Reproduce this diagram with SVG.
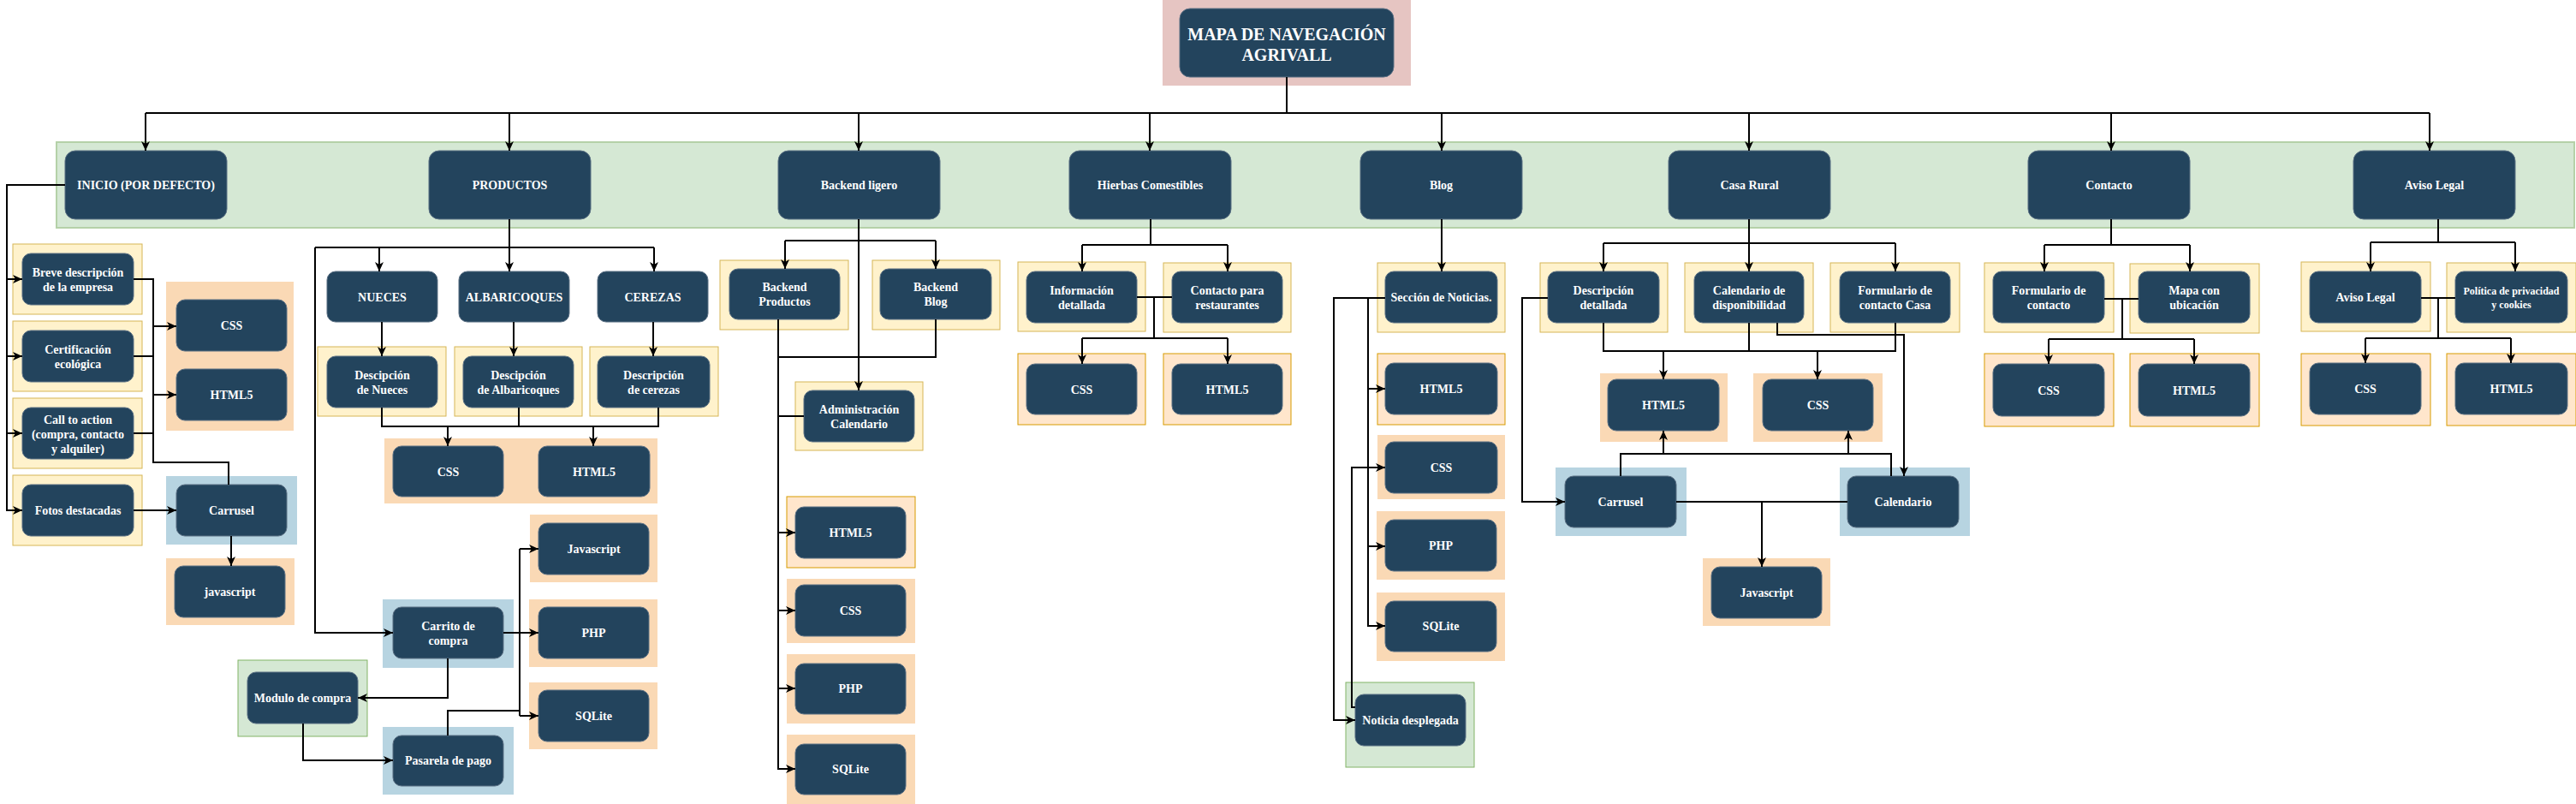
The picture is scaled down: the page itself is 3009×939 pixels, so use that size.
<svg xmlns="http://www.w3.org/2000/svg" xmlns:xlink="http://www.w3.org/1999/xlink" width="3009" height="939" viewBox="0 0 3009 939">
<defs>
<style>
.n{fill:#23445d;stroke:#5b7084;stroke-width:1}
.y{fill:#fff2cc;stroke:#d6b656;stroke-width:1}
.o{fill:#fad9b5}
.os{fill:#ffe6cc;stroke:#d79b00;stroke-width:1}
.b{fill:#b7d4e1}
.g{fill:#d5e8d4;stroke:#82b366;stroke-width:1}
.p{fill:#e6c5c2}
text{font-family:"Liberation Serif","Times New Roman",serif;font-weight:bold;font-size:14px;fill:#ffffff;text-anchor:middle}
.tt{font-size:20px}
.sm{font-size:12px}
.c path{fill:none;stroke:#000;stroke-width:2}
.c use{fill:#000;stroke:none}
</style>
<path id="ad" d="M0,0 L-5,-11 L0,-8 L5,-11 Z"/>
<path id="au" d="M0,0 L-5,11 L0,8 L5,11 Z"/>
<path id="ar" d="M0,0 L-11,-5 L-8,0 L-11,5 Z"/>
<path id="al" d="M0,0 L11,-5 L8,0 L11,5 Z"/>
</defs>
<rect width="3009" height="939" fill="#ffffff"/>

<rect id="band" x="66" y="166" width="2941" height="100" style="fill:#d5e8d4;stroke:#b5d1a8;stroke-width:2"/>

<g id="title">
<rect class="p" x="1358" y="0" width="290" height="100"/>
<rect class="n" x="1378" y="10" width="250" height="80" rx="12"/>
<text class="tt" x="1503" y="47">MAPA DE NAVEGACIÓN</text>
<text class="tt" x="1503" y="71">AGRIVALL</text>
</g>

<g id="inicio"><rect class="n" x="76" y="176" width="189" height="80" rx="12"/><text x="170.5" y="221">INICIO (POR DEFECTO)</text></g>
<g id="productos"><rect class="n" x="501" y="176" width="189" height="80" rx="12"/><text x="595.5" y="221">PRODUCTOS</text></g>
<g id="backend"><rect class="n" x="909" y="176" width="189" height="80" rx="12"/><text x="1003.5" y="221">Backend ligero</text></g>
<g id="hierbas"><rect class="n" x="1249" y="176" width="189" height="80" rx="12"/><text x="1343.5" y="221">Hierbas Comestibles</text></g>
<g id="blog"><rect class="n" x="1589" y="176" width="189" height="80" rx="12"/><text x="1683.5" y="221">Blog</text></g>
<g id="casarural"><rect class="n" x="1949" y="176" width="189" height="80" rx="12"/><text x="2043.5" y="221">Casa Rural</text></g>
<g id="contacto"><rect class="n" x="2369" y="176" width="189" height="80" rx="12"/><text x="2463.5" y="221">Contacto</text></g>
<g id="avisolegal"><rect class="n" x="2749" y="176" width="189" height="80" rx="12"/><text x="2843.5" y="221">Aviso Legal</text></g>

<g id="breve"><rect class="y" x="15" y="285" width="151" height="82"/><rect class="n" x="26" y="296" width="130" height="60" rx="10"/><text x="91" y="323">Breve descripción</text><text x="91" y="340">de la empresa</text></g>
<g id="certificacion"><rect class="y" x="15" y="375" width="151" height="82"/><rect class="n" x="26" y="386" width="130" height="60" rx="10"/><text x="91" y="413">Certificación</text><text x="91" y="430">ecológica</text></g>
<g id="callaction"><rect class="y" x="15" y="465" width="151" height="82"/><rect class="n" x="26" y="476" width="130" height="60" rx="10"/><text x="91" y="495">Call to action</text><text x="91" y="512">(compra, contacto</text><text x="91" y="529">y alquiler)</text></g>
<g id="fotos"><rect class="y" x="15" y="555" width="151" height="82"/><rect class="n" x="26" y="566" width="130" height="60" rx="10"/><text x="91" y="601">Fotos destacadas</text></g>
<g id="inicio-tech"><rect class="o" x="194" y="329" width="149" height="174"/>
<rect class="n" x="206" y="350" width="129" height="60" rx="10"/><text x="270.5" y="385">CSS</text>
<rect class="n" x="206" y="431" width="129" height="60" rx="10"/><text x="270.5" y="466">HTML5</text></g>
<g id="carrusel1"><rect class="b" x="194" y="556" width="153" height="80"/><rect class="n" x="206" y="566" width="129" height="60" rx="10"/><text x="270.5" y="601">Carrusel</text></g>
<g id="js1"><rect class="o" x="194" y="652" width="150" height="78"/><rect class="n" x="204" y="661" width="129" height="60" rx="10"/><text x="268.5" y="696">javascript</text></g>

<g id="nueces"><rect class="n" x="382" y="317" width="129" height="59" rx="10"/><text x="446.5" y="352">NUECES</text></g>
<g id="albaricoques"><rect class="n" x="536" y="317" width="129" height="59" rx="10"/><text x="600.5" y="352">ALBARICOQUES</text></g>
<g id="cerezas"><rect class="n" x="698" y="317" width="129" height="59" rx="10"/><text x="762.5" y="352">CEREZAS</text></g>
<g id="desc-nueces"><rect class="y" x="371" y="405" width="150" height="81"/><rect class="n" x="382" y="416" width="129" height="60" rx="10"/><text x="446.5" y="443">Descipción</text><text x="446.5" y="460">de Nueces</text></g>
<g id="desc-alb"><rect class="y" x="531" y="405" width="149" height="81"/><rect class="n" x="541" y="416" width="129" height="60" rx="10"/><text x="605.5" y="443">Descipción</text><text x="605.5" y="460">de Albaricoques</text></g>
<g id="desc-cer"><rect class="y" x="689" y="405" width="150" height="81"/><rect class="n" x="698" y="416" width="131" height="60" rx="10"/><text x="763.5" y="443">Descripción</text><text x="763.5" y="460">de cerezas</text></g>
<g id="prod-tech"><rect class="o" x="449" y="512" width="319" height="76"/>
<rect class="n" x="459" y="521" width="129" height="59" rx="10"/><text x="523.5" y="556">CSS</text>
<rect class="n" x="629" y="521" width="130" height="59" rx="10"/><text x="694" y="556">HTML5</text></g>
<g id="js2"><rect class="o" x="619" y="601" width="149" height="79"/><rect class="n" x="629" y="611" width="129" height="60" rx="10"/><text x="693.5" y="646">Javascript</text></g>
<g id="php1"><rect class="o" x="618" y="700" width="150" height="79"/><rect class="n" x="629" y="709" width="129" height="60" rx="10"/><text x="693.5" y="744">PHP</text></g>
<g id="sqlite1"><rect class="o" x="618" y="797" width="150" height="78"/><rect class="n" x="629" y="806" width="129" height="60" rx="10"/><text x="693.5" y="841">SQLite</text></g>
<g id="carrito"><rect class="b" x="447" y="700" width="153" height="80"/><rect class="n" x="459" y="709" width="129" height="60" rx="10"/><text x="523.5" y="736">Carrito de</text><text x="523.5" y="753">compra</text></g>
<g id="modulo"><rect class="g" x="278" y="771" width="151" height="89"/><rect class="n" x="289" y="785" width="129" height="60" rx="10"/><text x="353.5" y="820">Modulo de compra</text></g>
<g id="pasarela"><rect class="b" x="447" y="849" width="153" height="79"/><rect class="n" x="459" y="859" width="129" height="59" rx="10"/><text x="523.5" y="893">Pasarela de pago</text></g>

<g id="be-productos"><rect class="y" x="841" y="304" width="150" height="81"/><rect class="n" x="852" y="314" width="129" height="59" rx="10"/><text x="916.5" y="340">Backend</text><text x="916.5" y="357">Productos</text></g>
<g id="be-blog"><rect class="y" x="1019" y="304" width="149" height="81"/><rect class="n" x="1028" y="314" width="130" height="59" rx="10"/><text x="1093" y="340">Backend</text><text x="1093" y="357">Blog</text></g>
<g id="admin-cal"><rect class="y" x="929" y="446" width="149" height="80"/><rect class="n" x="939" y="456" width="129" height="60" rx="10"/><text x="1003.5" y="483">Administración</text><text x="1003.5" y="500">Calendario</text></g>
<g id="be-html5"><rect class="os" x="919" y="580" width="150" height="83"/><rect class="n" x="929" y="592" width="129" height="60" rx="10"/><text x="993.5" y="627">HTML5</text></g>
<g id="be-css"><rect class="o" x="919" y="676" width="150" height="75"/><rect class="n" x="929" y="683" width="129" height="60" rx="10"/><text x="993.5" y="718">CSS</text></g>
<g id="be-php"><rect class="o" x="919" y="764" width="150" height="81"/><rect class="n" x="929" y="775" width="129" height="59" rx="10"/><text x="993.5" y="809">PHP</text></g>
<g id="be-sqlite"><rect class="o" x="919" y="858" width="150" height="81"/><rect class="n" x="929" y="869" width="129" height="59" rx="10"/><text x="993.5" y="903">SQLite</text></g>

<g id="info-det"><rect class="y" x="1189" y="306" width="149" height="81"/><rect class="n" x="1199" y="317" width="129" height="60" rx="10"/><text x="1263.5" y="344">Información</text><text x="1263.5" y="361">detallada</text></g>
<g id="contacto-rest"><rect class="y" x="1359" y="307" width="149" height="81"/><rect class="n" x="1369" y="317" width="129" height="60" rx="10"/><text x="1433.5" y="344">Contacto para</text><text x="1433.5" y="361">restaurantes</text></g>
<g id="hi-css"><rect class="os" x="1189" y="413" width="149" height="83"/><rect class="n" x="1199" y="425" width="129" height="59" rx="10"/><text x="1263.5" y="460">CSS</text></g>
<g id="hi-html5"><rect class="os" x="1359" y="413" width="149" height="83"/><rect class="n" x="1369" y="425" width="129" height="59" rx="10"/><text x="1433.5" y="460">HTML5</text></g>

<g id="seccion"><rect class="y" x="1609" y="307" width="149" height="81"/><rect class="n" x="1618" y="317" width="131" height="60" rx="10"/><text x="1683.5" y="352">Sección de Noticias.</text></g>
<g id="bl-html5"><rect class="os" x="1609" y="413" width="149" height="83"/><rect class="n" x="1618" y="424" width="131" height="60" rx="10"/><text x="1683.5" y="459">HTML5</text></g>
<g id="bl-css"><rect class="o" x="1609" y="508" width="149" height="75"/><rect class="n" x="1618" y="516" width="131" height="60" rx="10"/><text x="1683.5" y="551">CSS</text></g>
<g id="bl-php"><rect class="o" x="1608" y="597" width="150" height="80"/><rect class="n" x="1618" y="607" width="130" height="60" rx="10"/><text x="1683" y="642">PHP</text></g>
<g id="bl-sqlite"><rect class="o" x="1608" y="692" width="150" height="80"/><rect class="n" x="1618" y="702" width="130" height="59" rx="10"/><text x="1683" y="736">SQLite</text></g>
<g id="noticia"><rect class="g" x="1572" y="797" width="150" height="99"/><rect class="n" x="1583" y="811" width="129" height="60" rx="10"/><text x="1647.5" y="846">Noticia desplegada</text></g>

<g id="desc-det"><rect class="y" x="1799" y="307" width="149" height="81"/><rect class="n" x="1808" y="317" width="130" height="60" rx="10"/><text x="1873" y="344">Descripción</text><text x="1873" y="361">detallada</text></g>
<g id="cal-disp"><rect class="y" x="1968" y="307" width="150" height="81"/><rect class="n" x="1979" y="317" width="128" height="60" rx="10"/><text x="2043" y="344">Calendario de</text><text x="2043" y="361">disponibilidad</text></g>
<g id="form-casa"><rect class="y" x="2138" y="307" width="151" height="81"/><rect class="n" x="2149" y="317" width="129" height="60" rx="10"/><text x="2213.5" y="344">Formulario de</text><text x="2213.5" y="361">contacto Casa</text></g>
<g id="cr-html5"><rect class="o" x="1869" y="436" width="149" height="80"/><rect class="n" x="1878" y="443" width="130" height="60" rx="10"/><text x="1943" y="478">HTML5</text></g>
<g id="cr-css"><rect class="o" x="2048" y="436" width="151" height="80"/><rect class="n" x="2059" y="443" width="129" height="60" rx="10"/><text x="2123.5" y="478">CSS</text></g>
<g id="carrusel2"><rect class="b" x="1817" y="546" width="153" height="80"/><rect class="n" x="1828" y="556" width="130" height="60" rx="10"/><text x="1893" y="591">Carrusel</text></g>
<g id="calendario"><rect class="b" x="2149" y="546" width="152" height="80"/><rect class="n" x="2158" y="556" width="130" height="60" rx="10"/><text x="2223" y="591">Calendario</text></g>
<g id="js3"><rect class="o" x="1989" y="652" width="149" height="79"/><rect class="n" x="1999" y="662" width="129" height="60" rx="10"/><text x="2063.5" y="697">Javascript</text></g>

<g id="form-contacto"><rect class="y" x="2318" y="307" width="151" height="81"/><rect class="n" x="2328" y="317" width="130" height="60" rx="10"/><text x="2393" y="344">Formulario de</text><text x="2393" y="361">contacto</text></g>
<g id="mapa"><rect class="y" x="2488" y="308" width="151" height="81"/><rect class="n" x="2498" y="317" width="130" height="60" rx="10"/><text x="2563" y="344">Mapa con</text><text x="2563" y="361">ubicación</text></g>
<g id="co-css"><rect class="os" x="2318" y="413" width="151" height="85"/><rect class="n" x="2328" y="425" width="130" height="61" rx="10"/><text x="2393" y="461">CSS</text></g>
<g id="co-html5"><rect class="os" x="2488" y="413" width="151" height="85"/><rect class="n" x="2498" y="425" width="130" height="61" rx="10"/><text x="2563" y="461">HTML5</text></g>

<g id="aviso-sub"><rect class="y" x="2688" y="306" width="151" height="81"/><rect class="n" x="2698" y="317" width="130" height="60" rx="10"/><text x="2763" y="352">Aviso Legal</text></g>
<g id="politica"><rect class="y" x="2858" y="307" width="151" height="81"/><rect class="n" x="2868" y="317" width="131" height="60" rx="10"/><text class="sm" x="2933.5" y="344">Política de privacidad</text><text class="sm" x="2933.5" y="360">y cookies</text></g>
<g id="av-css"><rect class="os" x="2688" y="413" width="151" height="84"/><rect class="n" x="2698" y="424" width="130" height="60" rx="10"/><text x="2763" y="459">CSS</text></g>
<g id="av-html5"><rect class="os" x="2858" y="413" width="151" height="84"/><rect class="n" x="2868" y="424" width="131" height="60" rx="10"/><text x="2933.5" y="459">HTML5</text></g>

<g id="connectors" class="c">
<path d="M1503 90 V132 M170 132 H2838 M170 132 V176 M595 132 V176 M1003 132 V176 M1343 132 V176 M1684 132 V176 M2043 132 V176 M2466 132 V176 M2838 132 V176"/>

<path d="M76 216 H8 V596 H26 M8 326 H26 M8 416 H26 M8 506 H26"/>
<path d="M156 326 H179 V540 H267 V566 M156 416 H179 M156 506 H179 M179 381 H206 M179 461 H206 M156 596 H206 M270 626 V661"/>

<path d="M595 256 V289 M443 289 H764 M443 289 V317 M595 289 V317 M764 289 V317 M368 289 H443 M368 289 V739 H459"/>
<path d="M446 376 V416 M600 376 V416 M763 376 V416"/>
<path d="M446 476 V498 H769 V476 M606 476 V498 M523 498 V521 M693 498 V521"/>
<path d="M588 739 H629 M607 641 V836 M607 641 H629 M607 836 H629"/>
<path d="M523 769 V815 H418 M354 845 V888 H459 M523 859 V830 H607"/>

<path d="M1003 256 V456 M917 281 H1093 M917 281 V314 M1093 281 V314"/>
<path d="M909 373 V898 H929 M909 622 H929 M909 713 H929 M909 804 H929 M909 486 H939 M1093 373 V417 H909"/>

<path d="M1344 256 V286 M1264 286 H1434 M1264 286 V317 M1434 286 V317"/>
<path d="M1328 347 H1369 M1348 347 V395 M1264 395 H1434 M1264 395 V425 M1434 395 V425"/>

<path d="M1684 256 V317"/>
<path d="M1618 348 H1558 V841 H1583 M1598 348 V731 H1618 M1598 454 H1618 M1598 638 H1618 M1583 826 H1579 V546 H1618"/>

<path d="M2043 256 V317 M1873 284 H2214 M1873 284 V317 M2214 284 V317"/>
<path d="M1808 348 H1778 V586 H1828"/>
<path d="M1873 377 V410 H2214 V377 M2043 377 V410 M1943 410 V443 M2123 410 V443"/>
<path d="M2076 377 V391 H2224 V556"/>
<path d="M1893 556 V530 H2209 V556 M1943 530 V503 M2159 530 V503"/>
<path d="M1958 586 H2158 M2058 586 V662"/>

<path d="M2466 256 V286 M2388 286 H2558 M2388 286 V317 M2558 286 V317"/>
<path d="M2458 349 H2498 M2479 349 V396 M2393 396 H2563 M2393 396 V425 M2563 396 V425"/>

<path d="M2848 256 V283 M2769 283 H2938 M2769 283 V317 M2938 283 V317"/>
<path d="M2828 348 H2868 M2848 348 V395 M2763 395 H2933 M2763 395 V424 M2933 395 V424"/>

<use xlink:href="#ad" x="170" y="176"/><use xlink:href="#ad" x="595" y="176"/><use xlink:href="#ad" x="1003" y="176"/><use xlink:href="#ad" x="1343" y="176"/>
<use xlink:href="#ad" x="1684" y="176"/><use xlink:href="#ad" x="2043" y="176"/><use xlink:href="#ad" x="2466" y="176"/><use xlink:href="#ad" x="2838" y="176"/>
<use xlink:href="#ad" x="270" y="661"/>
<use xlink:href="#ad" x="443" y="317"/><use xlink:href="#ad" x="595" y="317"/><use xlink:href="#ad" x="764" y="317"/>
<use xlink:href="#ad" x="446" y="416"/><use xlink:href="#ad" x="600" y="416"/><use xlink:href="#ad" x="763" y="416"/>
<use xlink:href="#ad" x="523" y="521"/><use xlink:href="#ad" x="693" y="521"/>
<use xlink:href="#ad" x="1003" y="456"/><use xlink:href="#ad" x="917" y="314"/><use xlink:href="#ad" x="1093" y="314"/>
<use xlink:href="#ad" x="1264" y="317"/><use xlink:href="#ad" x="1434" y="317"/><use xlink:href="#ad" x="1264" y="425"/><use xlink:href="#ad" x="1434" y="425"/>
<use xlink:href="#ad" x="1684" y="317"/>
<use xlink:href="#ad" x="2043" y="317"/><use xlink:href="#ad" x="1873" y="317"/><use xlink:href="#ad" x="2214" y="317"/>
<use xlink:href="#ad" x="1943" y="443"/><use xlink:href="#ad" x="2123" y="443"/><use xlink:href="#ad" x="2224" y="556"/><use xlink:href="#ad" x="2058" y="662"/>
<use xlink:href="#ad" x="2388" y="317"/><use xlink:href="#ad" x="2558" y="317"/><use xlink:href="#ad" x="2393" y="425"/><use xlink:href="#ad" x="2563" y="425"/>
<use xlink:href="#ad" x="2769" y="317"/><use xlink:href="#ad" x="2938" y="317"/><use xlink:href="#ad" x="2763" y="424"/><use xlink:href="#ad" x="2933" y="424"/>
<use xlink:href="#ar" x="26" y="596"/><use xlink:href="#ar" x="26" y="326"/><use xlink:href="#ar" x="26" y="416"/><use xlink:href="#ar" x="26" y="506"/>
<use xlink:href="#ar" x="206" y="381"/><use xlink:href="#ar" x="206" y="461"/><use xlink:href="#ar" x="206" y="596"/>
<use xlink:href="#ar" x="459" y="739"/><use xlink:href="#ar" x="629" y="739"/><use xlink:href="#ar" x="629" y="641"/><use xlink:href="#ar" x="629" y="836"/><use xlink:href="#ar" x="459" y="888"/>
<use xlink:href="#ar" x="929" y="898"/><use xlink:href="#ar" x="929" y="622"/><use xlink:href="#ar" x="929" y="713"/><use xlink:href="#ar" x="929" y="804"/>
<use xlink:href="#ar" x="1583" y="841"/><use xlink:href="#ar" x="1618" y="731"/><use xlink:href="#ar" x="1618" y="454"/><use xlink:href="#ar" x="1618" y="638"/><use xlink:href="#ar" x="1618" y="546"/>
<use xlink:href="#ar" x="1828" y="586"/>
<use xlink:href="#al" x="418" y="815"/>
<use xlink:href="#au" x="1943" y="503"/><use xlink:href="#au" x="2159" y="503"/>
</g>
</svg>
